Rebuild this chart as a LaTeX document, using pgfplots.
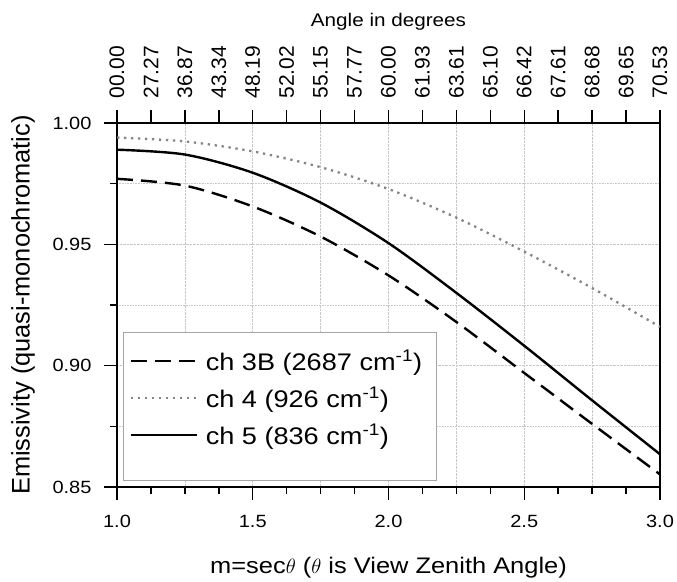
\documentclass[border=0pt]{standalone}
\usepackage{pgfplots}
\pgfplotsset{compat=1.18}
\usepackage{fontspec}
\setmainfont{Liberation Sans}[FakeStretch=1.13]
\newfontfamily\plainsans{Liberation Sans}
\begin{document}
\begin{tikzpicture}[x=1pt,y=1pt]
\useasboundingbox (0,0) rectangle (677,581);
\pgfplotsset{
  emis/.style={scale only axis, width=543pt, height=364pt,
    xmin=1, xmax=3, ymin=0.85, ymax=1,
    at={(117pt,94pt)}, anchor=south west,
    /pgf/number format/assume math mode=true,
    tick align=outside, major tick length=13pt, minor tick length=6.5pt,
    tick style={line width=1.4pt, black},
    tick label style={font=\fontsize{17.7}{20}\selectfont},
  },
}
% main axis
\begin{axis}[emis,
  axis line style={line width=1.6pt},
  xtick={1,1.5,2,2.5,3}, minor x tick num=3, xtick pos=bottom,
  ytick={0.85,0.9,0.95,1}, minor y tick num=1, ytick pos=left,
  xticklabel style={yshift=-12pt, /pgf/number format/.cd, fixed, fixed zerofill, precision=1},
  yticklabel style={xshift=-9pt, /pgf/number format/.cd, fixed, fixed zerofill, precision=2},
  xmajorgrids, ymajorgrids, yminorgrids,
  grid style={densely dotted, black!22, line width=0.6pt},
  minor grid style={densely dotted, black!22, line width=0.6pt},
  extra x ticks={1.25,1.75,2.25,2.75}, extra x tick labels={},
  extra x tick style={major tick length=6.5pt, xmajorgrids=true},
  xlabel={m=sec$\theta$ ($\theta$ is View Zenith Angle)},
  xlabel style={font=\fontsize{22.5}{25}\selectfont,
    at={(axis description cs:0.5,0)}, anchor=center, yshift=-81pt},
  ylabel={Emissivity (quasi-monochromatic)},
  ylabel style={font=\plainsans\fontsize{25.4}{28}\selectfont,
    at={(axis description cs:-0.173,0.5)}, anchor=center},
  legend style={at={(0.011,0.016)}, anchor=south west, draw=black!35, line width=0.8pt,
    font=\fontsize{24}{27}\selectfont, row sep=11pt, inner xsep=6pt, inner ysep=16pt,
    nodes={inner xsep=8pt}},
  legend cell align=left,
  legend image code/.code={\draw[#1] (0pt,0pt) -- (66pt,0pt);},
]
\addplot[black, line width=2.4pt, dash pattern=on 16pt off 8pt, smooth] coordinates {
  (1.00,0.9770) (1.25,0.9742) (1.50,0.9656) (1.75,0.9532) (2.00,0.9372)
  (2.25,0.9180) (2.50,0.8970) (2.75,0.8760) (3.00,0.8552)};
\addlegendentry{ch 3B (2687 cm\textsuperscript{-1})}
\addplot[black!48, line width=2.3pt, dash pattern=on 2.3pt off 4.7pt, smooth] coordinates {
  (1.00,0.9940) (1.25,0.9924) (1.50,0.9883) (1.75,0.9818) (2.00,0.9728)
  (2.25,0.9610) (2.50,0.9470) (2.75,0.9320) (3.00,0.9160)};
\addlegendentry{ch 4 (926 cm\textsuperscript{-1})}
\addplot[black, line width=2.4pt, smooth] coordinates {
  (1.00,0.9890) (1.25,0.9870) (1.50,0.9795) (1.75,0.9672) (2.00,0.9505)
  (2.25,0.9300) (2.50,0.9082) (2.75,0.8857) (3.00,0.8635)};
\addlegendentry{ch 5 (836 cm\textsuperscript{-1})}
\addlegendimage{empty legend}
\addlegendentry{}
\end{axis}
% top axis with angles
\begin{axis}[emis,
  axis x line*=top, axis y line=none,
  axis line style={line width=1.6pt},
  xtick={1,1.125,1.25,1.375,1.5,1.625,1.75,1.875,2,2.125,2.25,2.375,2.5,2.625,2.75,2.875,3},
  xticklabels={00.00,27.27,36.87,43.34,48.19,52.02,55.15,57.77,60.00,61.93,63.61,65.10,66.42,67.61,68.68,69.65,70.53},
  xticklabel style={rotate=90, anchor=west, xshift=8pt, font=\plainsans\fontsize{21}{23}\selectfont},
  xlabel={Angle in degrees},
  xlabel style={font=\fontsize{18.3}{21}\selectfont,
    at={(axis description cs:0.5,1)}, anchor=center, yshift=101pt},
]
\end{axis}
\end{tikzpicture}
\end{document}
